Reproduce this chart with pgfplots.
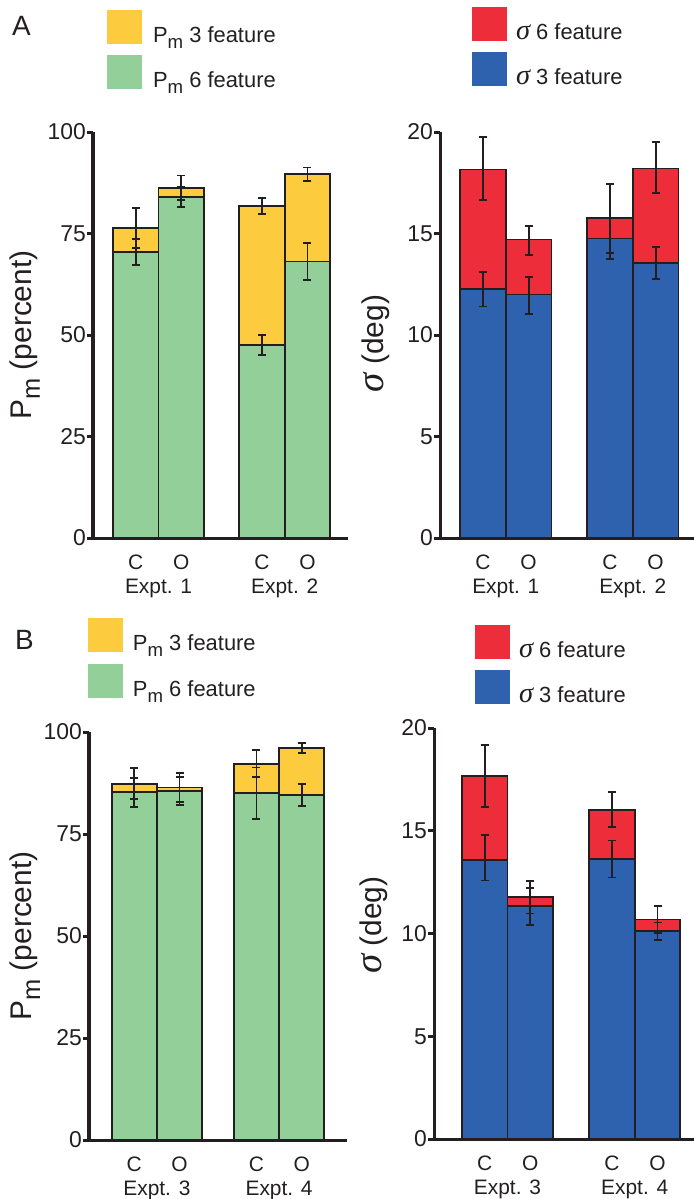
\documentclass[border=0pt]{standalone}
\usepackage{fontspec}
\setmainfont{Liberation Sans}
\newfontfamily\serif{Liberation Serif}
\usepackage{pgfplots}
\pgfplotsset{compat=1.18}

\definecolor{pmy}{HTML}{FDCB3E}
\definecolor{pmg}{HTML}{93CF98}
\definecolor{sgr}{HTML}{EE2D3A}
\definecolor{sgb}{HTML}{2E62AE}
\definecolor{ink}{HTML}{231F20}

\newcommand{\Pm}{P\raisebox{-0.28em}{\scalebox{0.85}{m}}}
\newcommand{\sig}{{\serif\itshape\scalebox{1.3}{σ}}}

\pgfplotsset{
  panel/.style={
    scale only axis, clip=false,
    axis x line*=bottom, axis y line*=left,
    axis line style={line width=3bp, ink},
    tick align=outside, major tick length=6bp,
    ytick style={line width=3bp, ink},
    xtick style={draw=none},
    ymin=0,
    /pgf/number format/assume math mode=true,
    yticklabel style={font=\fontsize{23}{27}\selectfont, text=ink, inner sep=0pt, xshift=-1bp},
    xticklabel style={font=\fontsize{21}{25}\selectfont, text=ink, inner sep=0pt, anchor=north, yshift=-11bp},
    xticklabels={C,O,C,O},
    extra x tick style={tick style={draw=none}, tick label style={font=\fontsize{20}{24}\selectfont, yshift=-24bp}},
    ylabel style={font=\fontsize{30}{34}\selectfont, text=ink, anchor=center},
    legend style={draw=none, fill=none, inner sep=0pt, outer sep=0pt, anchor=north west,
      row sep=11bp, column sep=11bp, nodes={inner sep=0pt},
      font=\fontsize{22}{26}\selectfont, text=ink},
    legend cell align=left,
    legend image code/.code={\fill[##1, draw=none] (0bp,-9bp) rectangle (35bp,25bp);},
  },
  bar/.style={ybar, bar width=1, bar shift=0pt, draw=ink, line width=1.8bp},
  eb/.style={draw=none, mark=none, forget plot,
    error bars/.cd, y dir=both, y explicit, error mark=|,
    error bar style={draw=ink, line width=1.8bp},
    error mark options={draw=ink, line width=1.8bp, mark size=4bp}},
}

\begin{document}
\begin{tikzpicture}
\useasboundingbox (0,0) rectangle (694bp,-1199bp);

% ---- A, left: P_m
\begin{axis}[panel, at={(93bp,-538bp)}, anchor=south west,
  width=255bp, height=406bp, xmin=0.06, xmax=5.66, ymax=100,
  ytick={0,25,50,75,100}, xtick={1,2,3.77,4.77},
  extra x ticks={1.5,4.27}, extra x tick labels={Expt. 1,Expt. 2},
  ylabel={\Pm\ (percent)}, ylabel style={at={(axis description cs:-0.267,0.5)}},
  legend style={at={(0.055,1.300)}}]
\addplot[bar, fill=pmy] coordinates {(1,76.3) (2,86.3) (3.77,81.8) (4.77,89.6)};
\addlegendentry{\Pm\ 3 feature}
\addplot[bar, fill=pmg] coordinates {(1,70.5) (2,84.0) (3.77,47.5) (4.77,68.1)};
\addlegendentry{\Pm\ 6 feature}
\addplot[eb] coordinates {(1,76.3) +- (0,4.9) (2,86.3) +- (0,3.0) (3.77,81.8) +- (0,1.95) (4.77,89.6) +- (0,1.65)};
\addplot[eb] coordinates {(1,70.5) +- (0,3.2) (2,84.0) +- (0,2.4) (3.77,47.5) +- (0,2.5) (4.77,68.1) +- (0,4.6)};
\end{axis}

% ---- A, right: sigma
\begin{axis}[panel, at={(440bp,-538bp)}, anchor=south west,
  width=254bp, height=406bp, xmin=0.06, xmax=5.62, ymax=20,
  ytick={0,5,10,15,20}, xtick={1,2,3.78,4.78},
  extra x ticks={1.5,4.28}, extra x tick labels={Expt. 1,Expt. 2},
  ylabel={\sig\ (deg)}, ylabel style={at={(axis description cs:-0.252,0.479)}},
  legend style={at={(0.126,1.308)}, column sep=9bp}]
\addplot[bar, fill=sgr] coordinates {(1,18.15) (2,14.7) (3.78,15.75) (4.78,18.2)};
\addlegendentry{\sig\ 6 feature}
\addplot[bar, fill=sgb] coordinates {(1,12.25) (2,12.0) (3.78,14.75) (4.78,13.55)};
\addlegendentry{\sig\ 3 feature}
\addplot[eb] coordinates {(1,18.2) +- (0,1.55) (2,14.65) +- (0,0.72) (3.78,15.75) +- (0,1.7) (4.78,18.25) +- (0,1.25)};
\addplot[eb] coordinates {(1,12.25) +- (0,0.85) (2,11.95) +- (0,0.9) (3.78,14.75) +- (0,1.0) (4.78,13.55) +- (0,0.8)};
\end{axis}

% ---- B, left: P_m
\begin{axis}[panel, at={(89bp,-1140bp)}, anchor=south west,
  width=258bp, height=408bp, xmin=0.0, xmax=5.70, ymax=100,
  ytick={0,25,50,75,100}, xtick={1,2,3.70,4.70},
  extra x ticks={1.5,4.2}, extra x tick labels={Expt. 3,Expt. 4},
  ylabel={\Pm\ (percent)}, ylabel style={at={(axis description cs:-0.248,0.5)}},
  legend style={at={(-0.004,1.279)}, column sep=10bp, row sep=12bp}]
\addplot[bar, fill=pmy] coordinates {(1,87.3) (2,86.4) (3.70,92.2) (4.70,96.0)};
\addlegendentry{\Pm\ 3 feature}
\addplot[bar, fill=pmg] coordinates {(1,85.2) (2,85.6) (3.70,85.0) (4.70,84.6)};
\addlegendentry{\Pm\ 6 feature}
\addplot[eb] coordinates {(1,87.3) +- (0,3.8) (2,86.4) +- (0,3.5) (3.70,92.2) +- (0,3.3) (4.70,96.1) +- (0,1.25)};
\addplot[eb] coordinates {(1,85.2) +- (0,3.6) (2,85.6) +- (0,3.4) (3.70,85.0) +- (0,6.3) (4.70,84.6) +- (0,2.65)};
\end{axis}

% ---- B, right: sigma
\begin{axis}[panel, at={(434bp,-1139bp)}, anchor=south west,
  width=260bp, height=411bp, xmin=-0.11, xmax=5.59, ymax=20,
  ytick={0,5,10,15,20}, xtick={1,2,3.79,4.79},
  extra x ticks={1.5,4.29}, extra x tick labels={Expt. 3,Expt. 4},
  ylabel={\sig\ (deg)}, ylabel style={at={(axis description cs:-0.23,0.52)}},
  legend style={at={(0.158,1.251)}, column sep=9bp}]
\addplot[bar, fill=sgr] coordinates {(1,17.65) (2,11.77) (3.79,16.0) (4.79,10.68)};
\addlegendentry{\sig\ 6 feature}
\addplot[bar, fill=sgb] coordinates {(1,13.58) (2,11.33) (3.79,13.64) (4.79,10.11)};
\addlegendentry{\sig\ 3 feature}
\addplot[eb] coordinates {(1,17.67) +- (0,1.5) (2,11.77) +- (0,0.8) (3.79,16.05) +- (0,0.85) (4.79,10.68) +- (0,0.65)};
\addplot[eb] coordinates {(1,13.68) +- (0,1.1) (2,11.33) +- (0,0.9) (3.79,13.63) +- (0,0.9) (4.79,10.12) +- (0,0.42)};
\end{axis}

\node[anchor=base west, inner sep=0pt, font=\fontsize{28}{32}\selectfont, text=ink] at (12bp,-35bp) {A};
\node[anchor=base west, inner sep=0pt, font=\fontsize{28}{32}\selectfont, text=ink] at (15bp,-649bp) {B};
\end{tikzpicture}
\end{document}
